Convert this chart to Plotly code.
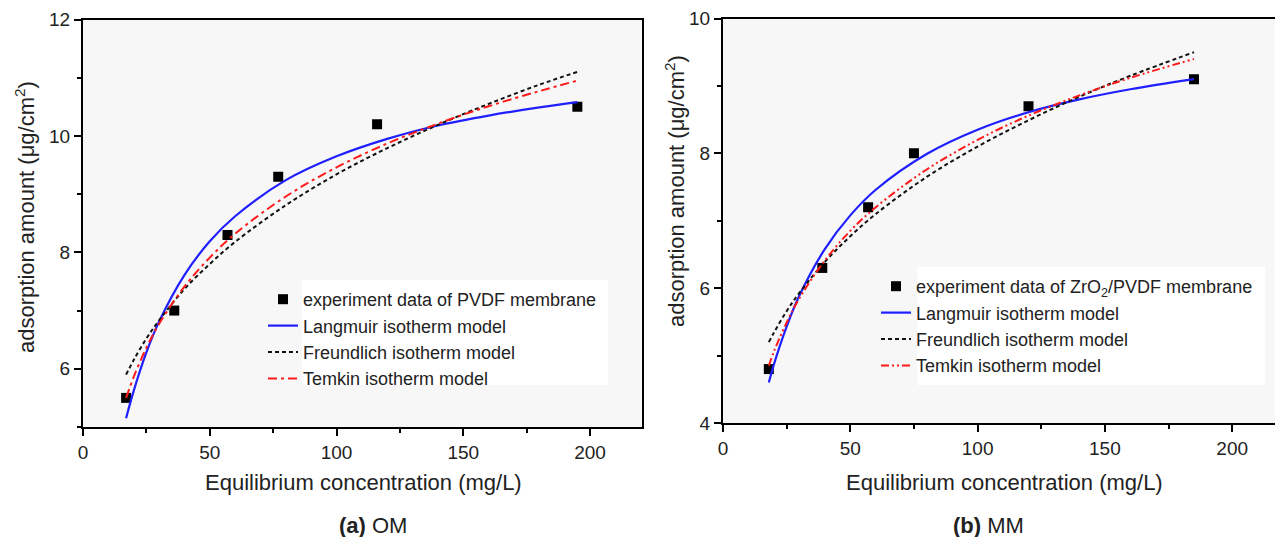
import plotly.graph_objects as go

# ---------------- data ----------------
# (a) OM  - PVDF membrane
om_exp_x = [17, 36, 57, 77, 116, 195]
om_exp_y = [5.5, 7.0, 8.3, 9.3, 10.2, 10.5]

om_fit_x = [17, 20, 25, 30, 40, 50, 60, 80, 100, 120, 140, 160, 180, 195]
om_langmuir = [5.15, 5.62, 6.28, 6.81, 7.61, 8.19, 8.62, 9.24, 9.65, 9.95, 10.18, 10.35, 10.49, 10.58]
om_freundlich = [5.90, 6.15, 6.52, 6.83, 7.37, 7.80, 8.18, 8.81, 9.34, 9.79, 10.19, 10.55, 10.88, 11.10]
om_temkin = [5.50, 5.86, 6.36, 6.77, 7.41, 7.91, 8.32, 8.96, 9.46, 9.87, 10.21, 10.51, 10.77, 10.95]

# (b) MM  - ZrO2/PVDF membrane
mm_exp_x = [18, 39, 57, 75, 120, 185]
mm_exp_y = [4.8, 6.3, 7.2, 8.0, 8.7, 9.1]

mm_fit_x = [18, 20, 25, 30, 40, 50, 60, 80, 100, 120, 140, 160, 185]
mm_langmuir = [4.60, 4.87, 5.43, 5.89, 6.58, 7.08, 7.46, 7.99, 8.35, 8.61, 8.80, 8.95, 9.10]
mm_freundlich = [5.20, 5.34, 5.66, 5.93, 6.39, 6.77, 7.10, 7.65, 8.10, 8.49, 8.84, 9.15, 9.50]
mm_temkin = [4.85, 5.06, 5.49, 5.85, 6.41, 6.85, 7.20, 7.76, 8.20, 8.56, 8.86, 9.12, 9.40]

x_ticks = [0, 50, 100, 150, 200]
om_y_ticks = [6, 8, 10, 12]
mm_y_ticks = [4, 6, 8, 10]

names = ["Langmuir isotherm model", "Freundlich isotherm model", "Temkin isotherm model"]
exp_names = ["experiment data of PVDF membrane", "experiment data of ZrO<sub>2</sub>/PVDF membrane"]

# ---------------- figure ----------------
PAGE_W, PAGE_H = 1283, 537
OFF = 8                      # default body margin of the html page
W, H = PAGE_W - OFF, PAGE_H - OFF
FONT = "Liberation Sans, Arial, sans-serif"
TXT = "#222222"


def px(x):
    return (x - OFF) / W


def py(y):
    return 1 - (y - OFF) / H


fig = go.Figure()

panels = [
    dict(xa="x", ya="y", legend="legend", ex=om_exp_x, ey=om_exp_y, fx=om_fit_x,
         curves=[om_langmuir, om_freundlich, om_temkin], ename=exp_names[0],
         tdash="9px,4px,3px,4px"),
    dict(xa="x2", ya="y2", legend="legend2", ex=mm_exp_x, ey=mm_exp_y, fx=mm_fit_x,
         curves=[mm_langmuir, mm_freundlich, mm_temkin], ename=exp_names[1],
         tdash="8px,3px,2px,3px,2px,3px"),
]

for p in panels:
    fig.add_trace(go.Scatter(
        x=p["ex"], y=p["ey"], mode="markers", name=p["ename"],
        marker=dict(symbol="square", size=10, color="black"),
        xaxis=p["xa"], yaxis=p["ya"], legend=p["legend"]))
    styles = [
        dict(color="#1f1fff", width=2.2, dash="solid"),
        dict(color="#111111", width=2, dash="4px,3px"),
        dict(color="#ff1a1a", width=2, dash=p["tdash"]),
    ]
    for nm, cy, st in zip(names, p["curves"], styles):
        fig.add_trace(go.Scatter(
            x=p["fx"], y=cy, mode="lines", name=nm, line=dict(shape="spline", **st),
            xaxis=p["xa"], yaxis=p["ya"], legend=p["legend"]))

axis_common = dict(
    showline=True, linecolor="black", linewidth=2, mirror=True,
    ticks="outside", ticklen=7, tickwidth=1.5, tickcolor="black",
    showgrid=False, zeroline=False, automargin=False, ticklabeloverflow="allow",
    tickfont=dict(family=FONT, size=19, color=TXT),
)

fig.update_layout(
    width=W, height=H,
    margin=dict(l=0, r=0, t=0, b=0, autoexpand=False),
    paper_bgcolor="white",
    plot_bgcolor="#f7f7f7",
    font=dict(family=FONT, color=TXT),
    xaxis=dict(domain=[px(83), px(642)], range=[0, 220.5], tickvals=x_ticks,
               minor=dict(dtick=25, ticks="outside", ticklen=4, tickcolor="black"),
               anchor="y", **axis_common),
    yaxis=dict(domain=[py(427), py(19.5)], range=[5, 12], tickvals=om_y_ticks,
               minor=dict(dtick=1, ticks="outside", ticklen=4, tickcolor="black"),
               anchor="x", **axis_common),
    xaxis2=dict(domain=[px(723), px(1278)], range=[0, 218], tickvals=x_ticks,
                minor=dict(dtick=25, ticks="outside", ticklen=4, tickcolor="black"),
                anchor="y2", **axis_common),
    yaxis2=dict(domain=[py(423), py(18.5)], range=[4, 10], tickvals=mm_y_ticks,
                minor=dict(dtick=1, ticks="outside", ticklen=4, tickcolor="black"),
                anchor="x2", **axis_common),
    legend=dict(x=px(263), y=py(281), xanchor="left", yanchor="top",
                bgcolor="rgba(0,0,0,0)", font=dict(family=FONT, size=18, color=TXT),
                tracegroupgap=0),
    legend2=dict(x=px(876), y=py(268), xanchor="left", yanchor="top",
                 bgcolor="rgba(0,0,0,0)", font=dict(family=FONT, size=18, color=TXT),
                 tracegroupgap=0),
    showlegend=True,
)

# white backdrops behind legend text
fig.add_shape(type="rect", xref="paper", yref="paper", x0=px(302), x1=px(608),
              y0=py(385), y1=py(280), fillcolor="white", line=dict(width=0), layer="below")
fig.add_shape(type="rect", xref="paper", yref="paper", x0=px(917), x1=px(1265),
              y0=py(385), y1=py(267), fillcolor="white", line=dict(width=0), layer="below")

ann = []
common = dict(xref="paper", yref="paper", showarrow=False, xanchor="center", yanchor="middle")
# x axis titles
for cx in (363, 1004):
    ann.append(dict(text="Equilibrium concentration (mg/L)", x=px(cx), y=py(482),
                    font=dict(family=FONT, size=22, color=TXT), **common))
# y axis titles
for cx, cy in ((25, 217), (675, 191)):
    ann.append(dict(text="adsorption amount (μg/cm<sup>2</sup>)", x=px(cx), y=py(cy),
                    textangle=-90, font=dict(family=FONT, size=22, color=TXT), **common))
# captions
for cx, txt in ((373, "<b>(a)</b> OM"), (988, "<b>(b)</b> MM")):
    ann.append(dict(text=txt, x=px(cx), y=py(525),
                    font=dict(family=FONT, size=22, color=TXT), **common))
fig.update_layout(annotations=ann)

fig.write_html("out.html")
